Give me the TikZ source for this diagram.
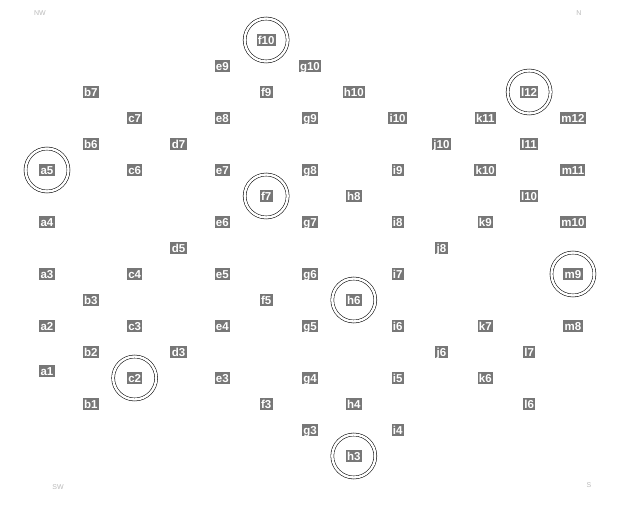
\documentclass[tikz,border=0pt]{standalone}
\usepackage{fontspec}
\setmainfont{Liberation Sans}
\usepackage{xcolor}
\usepackage{tikz}
\usetikzlibrary{positioning}
\definecolor{hexgray}{HTML}{777777}
\tikzset{
  % hex labels and marked hexes
  hexlabel/.style={rectangle, fill=hexgray, text=white, font=\fontsize{11.5}{12}\selectfont\bfseries, inner xsep=1.3pt, inner ysep=1.6pt, text height=8.3pt, text depth=0pt},
  ring/.style={circle, draw=black, double=white, double distance=2.4pt, line width=0.55pt, minimum size=43pt, inner sep=0pt},
  corner/.style={font=\fontsize{7}{7}\selectfont, text=gray!55, inner sep=0pt},
}

\begin{document}
\begin{tikzpicture}[x=1pt, y=-1pt]
    \useasboundingbox (0,0) rectangle (622,505);

    % Hex grid labels (column c, row r)
    \foreach \c/\col/\rows in {0/a/{2,3,4,5}, 1/b/{1,2,3,6,7}, 2/c/{2,3,4,6,7}, 3/d/{3,5,7},
        4/e/{3,4,5,6,7,8,9}, 5/f/{3,5,7,9,10}, 6/g/{3,4,5,6,7,8,9,10}, 7/h/{3,4,6,8,10},
        8/i/{4,5,6,7,8,9,10}, 9/j/{6,8,10}, 10/k/{6,7,9,10,11}, 11/l/{6,7,10,11,12},
        12/m/{8,9,10,11,12}}{
      \foreach \r in \rows {
        \pgfmathsetmacro{\hx}{47+43.83*\c}
        \pgfmathsetmacro{\hy}{430+26*\c-52*\r}
        \node[hexlabel] (\col\r) at (\hx,\hy) {\col\r};
      }
    }
    \node[hexlabel] (a1) at (47,371) {a1};

    % Marked hexes
    \foreach \h in {a5, c2, f10, f7, h6, h3, l12, m9}
      \node[ring] (ring-\h) at (\h) {};

    % Corner marks
    \node[corner] (nw) at (40,13) {NW};
    \node[corner] (ne) at (579,13) {N};
    \node[corner] (sw) at (58,487) {SW};
    \node[corner] (se) at (589,485) {S};
\end{tikzpicture}
\end{document}
